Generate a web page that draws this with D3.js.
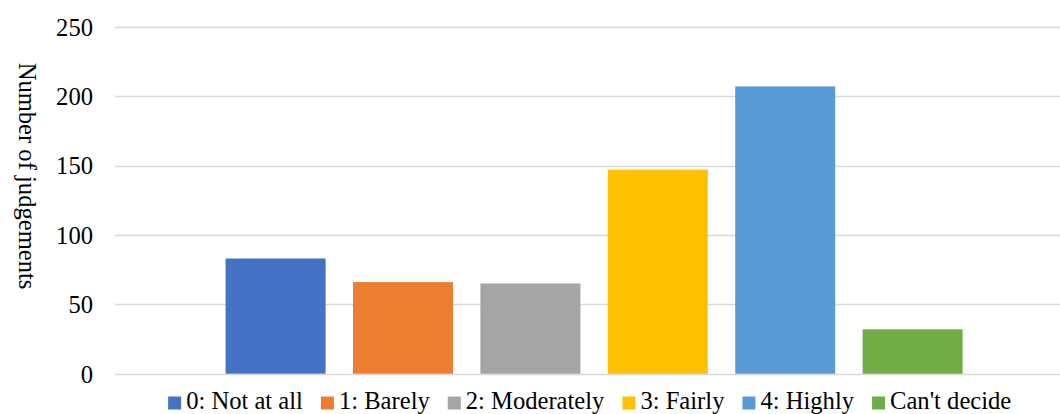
<!DOCTYPE html>
<html>
<head>
<meta charset="utf-8">
<script src="https://cdn.jsdelivr.net/npm/d3@7"></script>
<style>
  html, body { margin: 0; padding: 0; background: #fff; }
  svg { display: block; }
  text { font-family: "Liberation Serif", "Times New Roman", serif; fill: #000; }
</style>
</head>
<body>
<svg id="chart" width="1060" height="414"></svg>
<script>
// Judgement counts per rating
const categories = ["0: Not at all", "1: Barely", "2: Moderately", "3: Fairly", "4: Highly", "Can't decide"];
const values = [83, 66, 65, 147, 207, 32];
const colors = ["#4472C4", "#ED7D31", "#A5A5A5", "#FFC000", "#5B9BD5", "#70AD47"];
const yTicks = [0, 50, 100, 150, 200, 250];
const yTitle = "Number of judgements";

const svg = d3.select("#chart");
const fontSize = 24.6;

const plotLeft = 115, plotRight = 1060;
const y = d3.scaleLinear().domain([0, 250]).range([373.7, 26.7]);

const x = d3.scaleBand()
  .domain(categories)
  .range([211.9, 976.3])
  .paddingInner(0.215)
  .paddingOuter(0.1075);

// Gridlines
svg.append("g")
  .selectAll("line")
  .data(yTicks)
  .join("line")
  .attr("x1", plotLeft)
  .attr("x2", plotRight)
  .attr("y1", d => Math.round(y(d)) + 0.5)
  .attr("y2", d => Math.round(y(d)) + 0.5)
  .attr("stroke", "#d9d9d9")
  .attr("stroke-width", 1.3);

// Y axis tick labels
const yAxis = d3.axisLeft(y).tickValues(yTicks).tickSize(0).tickPadding(0);
const yg = svg.append("g").attr("transform", "translate(93,0)").call(yAxis);
yg.select(".domain").remove();
yg.selectAll("text")
  .style("font-family", '"Liberation Serif", "Times New Roman", serif')
  .style("font-size", fontSize + "px")
  .attr("fill", "#000")
  .attr("dy", "0.34em");

// Axis title
svg.append("text")
  .attr("transform", "translate(19,176) rotate(90)")
  .attr("text-anchor", "middle")
  .style("font-size", fontSize + "px")
  .text(yTitle);

// Bars
svg.append("g")
  .selectAll("rect")
  .data(categories)
  .join("rect")
  .attr("x", d => x(d))
  .attr("width", x.bandwidth())
  .attr("y", (d, i) => y(values[i]))
  .attr("height", (d, i) => y(0) - y(values[i]))
  .attr("fill", (d, i) => colors[i]);

// Legend
const legend = svg.append("g");
const sq = 13, gapText = 5, gapItem = 18;
const items = legend.selectAll("g")
  .data(categories)
  .join("g");
items.append("rect")
  .attr("width", sq).attr("height", sq)
  .attr("y", 396.5)
  .attr("fill", (d, i) => colors[i]);
items.append("text")
  .attr("x", sq + gapText)
  .attr("y", 408.6)
  .style("font-size", fontSize + "px")
  .text(d => d);

let cx = 0;
const offsets = [];
items.each(function() {
  offsets.push(cx);
  const w = d3.select(this).select("text").node().getComputedTextLength();
  cx += sq + gapText + w + gapItem;
});
const total = cx - gapItem;
const startX = 589.7 - total / 2;
items.attr("transform", (d, i) => `translate(${startX + offsets[i]},0)`);
</script>
</body>
</html>
